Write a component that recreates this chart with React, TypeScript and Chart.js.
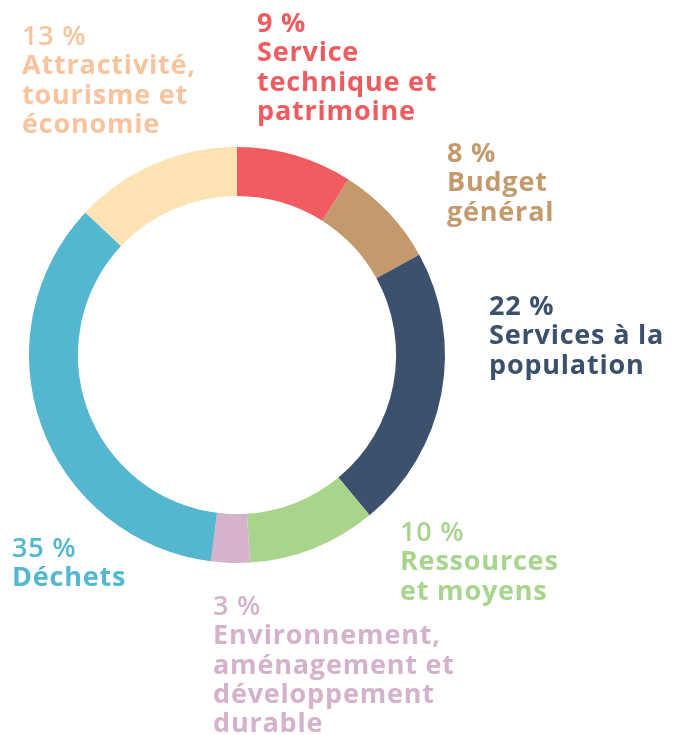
import React, { useEffect, useRef } from "react";
import { Chart, registerables } from "chart.js";

Chart.register(...registerables);

const categories = [
  "Service technique et patrimoine",
  "Budget général",
  "Services à la population",
  "Ressources et moyens",
  "Environnement, aménagement et développement durable",
  "Déchets",
  "Attractivité, tourisme et économie",
];
const values = [9, 8, 22, 10, 3, 35, 13];
const segmentColors = ["#F05C5F", "#C49A6C", "#3C516D", "#A9D48C", "#D4B3CB", "#54B7CF", "#FDE2B4"];
const labelColors = ["#EF5B5F", "#C39A6B", "#3B506C", "#A8D58D", "#D4B2CB", "#53B7CF", "#F9C39E"];
const labelLines = [
  ["Service", "technique et", "patrimoine"],
  ["Budget", "général"],
  ["Services à la", "population"],
  ["Ressources", "et moyens"],
  ["Environnement,", "aménagement et", "développement", "durable"],
  ["Déchets"],
  ["Attractivité,", "tourisme et", "économie"],
];
// label block anchors (left, first baseline)
const labelPos = [
  [257, 32],
  [447, 162],
  [489, 315],
  [400, 541],
  [213, 615],
  [12, 557],
  [22, 45],
];

export default function App() {
  const ref = useRef<HTMLCanvasElement | null>(null);
  useEffect(() => {
    document.body.style.margin = "0";
    const chart = new Chart(ref.current!, {
      type: "doughnut",
      data: {
        labels: categories,
        datasets: [
          {
            data: values,
            backgroundColor: segmentColors,
            borderWidth: 0,
          },
        ],
      },
      options: {
        responsive: false,
        animation: false,
        cutout: "76.5%",
        layout: { padding: { left: 29, right: 239, top: 147, bottom: 172 } },
        plugins: { legend: { display: false }, tooltip: { enabled: false } },
      },
    });
    return () => chart.destroy();
  }, []);

  return (
    <div style={{ position: "absolute", left: 0, top: 0, width: 684, height: 735, background: "#fff" }}>
      <canvas ref={ref} width={684} height={735} style={{ position: "absolute", left: 0, top: 0 }} />
      {labelLines.map((lines, i) => (
        <div
          key={i}
          style={{
            position: "absolute",
            left: labelPos[i][0],
            top: labelPos[i][1] - 25,
            color: labelColors[i],
            fontFamily: "'Open Sans', sans-serif",
            fontWeight: 700,
            fontSize: 27,
            letterSpacing: "0.8px",
            lineHeight: "29.3px",
            whiteSpace: "nowrap",
          }}
        >
          <div style={{ fontWeight: i <= 2 ? 700 : 600 }}>{values[i]} %</div>
          {lines.map((l, j) => (
            <div key={j}>{l}</div>
          ))}
        </div>
      ))}
    </div>
  );
}
